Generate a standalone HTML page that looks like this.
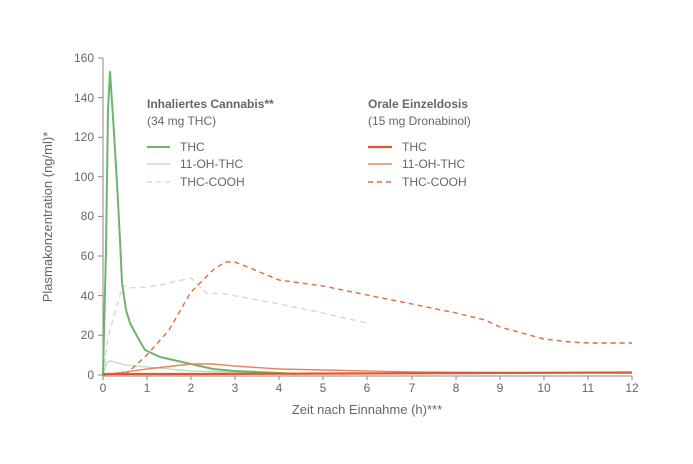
<!DOCTYPE html><html><head><style>body{margin:0;background:#fff}svg{font-family:"Liberation Sans",sans-serif}</style></head><body>
<svg width="693" height="459" viewBox="0 0 693 459" xmlns="http://www.w3.org/2000/svg">
<g stroke="#888" stroke-width="1" fill="none">
<line x1="103" y1="58" x2="103" y2="376"/><line x1="103" y1="376" x2="632" y2="376"/>
<path d="M98 58H103M98 97.6H103M98 137.2H103M98 176.8H103M98 216.4H103M98 256H103M98 295.6H103M98 335.2H103M98 375H103"/>
<path d="M103 376v4M147 376v4M191 376v4M235 376v4M279 376v4M323 376v4M367 376v4M412 376v4M456 376v4M500 376v4M544 376v4M588 376v4M632 376v4"/>
</g>
<g font-size="12" fill="#666" text-anchor="end">
<text x="94" y="62">160</text><text x="94" y="102">140</text><text x="94" y="141">120</text><text x="94" y="181">100</text><text x="94" y="220">80</text><text x="94" y="260">60</text><text x="94" y="300">40</text><text x="94" y="339">20</text><text x="94" y="379">0</text>
</g>
<g font-size="12" fill="#666" text-anchor="middle">
<text x="103" y="392">0</text><text x="147" y="392">1</text><text x="191" y="392">2</text><text x="235" y="392">3</text><text x="279" y="392">4</text><text x="323" y="392">5</text><text x="367" y="392">6</text><text x="412" y="392">7</text><text x="456" y="392">8</text><text x="500" y="392">9</text><text x="544" y="392">10</text><text x="588" y="392">11</text><text x="632" y="392">12</text>
<text x="367" y="414" font-size="13">Zeit nach Einnahme (h)***</text>
<text transform="translate(52 217) rotate(-90)" font-size="13">Plasmakonzentration (ng/ml)*</text>
</g>
<g fill="none" stroke-linejoin="round">
<path d="M103 375L107 345L110 330L123 285L128 288L147 287L160 285L191 278L206 293L226 294L279 304L323 313L367 323" stroke="#d5d5d5" stroke-width="1.3" stroke-dasharray="6,4"/>
<path d="M103 375L107 362L111 361L118 363L125 365L147 367L191 371L279 373L323 374" stroke="#b8dbb8" stroke-width="1.2"/>
<path d="M103 375L106 250L108 110L110 72L113 117L117 183L120 240L122 283L126 310L130 323L138 338L145 350L160 357L191 364L213 369L235 371L279 373L297 374" stroke="#6db56d" stroke-width="2"/>
<path d="M125 375L147 355L169 330L191 292L213 270L225 262L235 262L250 268L279 280L323 286L367 295L412 304L456 313L485 320L500 327L544 339L570 342L588 343L632 343" stroke="#e06a3c" stroke-width="1.4" stroke-dasharray="5,4"/>
<path d="M103 375L147 369L191 364L213 364L235 366L279 369L323 370L412 372L632 373" stroke="#e6865e" stroke-width="1.4"/>
<path d="M103 374L191 374L632 372.5" stroke="#e0582a" stroke-width="2.2"/>
</g>
<g font-size="12" fill="#666">
<text x="147" y="108" font-weight="bold">Inhaliertes Cannabis**</text><text x="147" y="125">(34 mg THC)</text>
<text x="180" y="151">THC</text><text x="180" y="168">11-OH-THC</text><text x="180" y="186">THC-COOH</text>
<text x="368" y="108" font-weight="bold">Orale Einzeldosis</text><text x="368" y="125">(15 mg Dronabinol)</text>
<text x="402" y="151">THC</text><text x="402" y="168">11-OH-THC</text><text x="402" y="186">THC-COOH</text>
</g>
<g fill="none">
<line x1="147" y1="147" x2="170" y2="147" stroke="#6db56d" stroke-width="2"/>
<line x1="147" y1="164" x2="170" y2="164" stroke="#b8dbb8" stroke-width="1.3"/>
<line x1="147" y1="182" x2="170" y2="182" stroke="#d5d5d5" stroke-width="1.3" stroke-dasharray="5,4"/>
<line x1="368" y1="147" x2="392" y2="147" stroke="#e0582a" stroke-width="2.2"/>
<line x1="368" y1="164" x2="392" y2="164" stroke="#e6865e" stroke-width="1.4"/>
<line x1="368" y1="182" x2="392" y2="182" stroke="#e06a3c" stroke-width="1.4" stroke-dasharray="5,4"/>
</g>
</svg></body></html>
